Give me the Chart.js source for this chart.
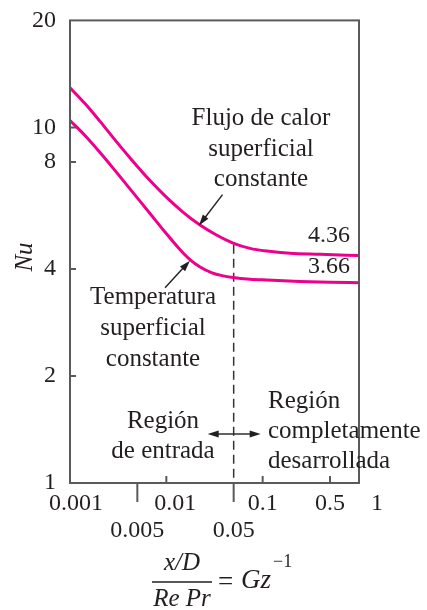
<!DOCTYPE html>
<html>
<head>
<meta charset="utf-8">
<script src="https://cdn.jsdelivr.net/npm/chart.js@4.4.1/dist/chart.umd.min.js"></script>
<style>
  html, body { margin: 0; padding: 0; background: #fff; }
  canvas { display: block; }
</style>
</head>
<body>
<canvas id="chart-nu" width="427" height="610"></canvas>
<script>
// Gz^-1 = (x/D)/(Re Pr) y Nu local, leídos sobre los ejes log-log
const gzFlujo = [0.001, 0.00143, 0.00205, 0.003, 0.0044, 0.00677, 0.00969, 0.01455, 0.0218, 0.0328, 0.0492, 0.0739, 0.111, 0.192, 0.394, 1];
const nuFlujo = [12.93, 11.67, 10.4, 9.15, 8.09, 7.09, 6.42, 5.81, 5.34, 4.99, 4.73, 4.57, 4.49, 4.43, 4.4, 4.36];
const gzTemp  = [0.001, 0.00143, 0.00205, 0.003, 0.0044, 0.00677, 0.00969, 0.0139, 0.0176, 0.0224, 0.0298, 0.0379, 0.0492, 0.0739, 0.111, 0.244, 0.5, 1];
const nuTemp  = [10.46, 9.49, 8.5, 7.51, 6.61, 5.73, 5.08, 4.53, 4.25, 4.05, 3.9, 3.83, 3.785, 3.744, 3.723, 3.69, 3.671, 3.66];

// valores totalmente desarrollados
const nuLimite = [4.36, 3.66];

// frontera entre la región de entrada y la desarrollada
const gzFrontera = 0.05;
const nuFrontera = [4.68, 1];

const xTicks     = [0.001, 0.005, 0.01, 0.05, 0.1, 0.5, 1];
const xTickText  = ['0.001', '0.005', '0.01', '0.05', '0.1', '0.5', '1'];
const xTicksBajo = [0.005, 0.05];       // segunda fila, marca larga hacia abajo
const xTicksDentro = [0.01, 0.1, 0.5];  // marca corta hacia adentro
const yTicks     = [1, 2, 4, 8, 10, 20];
const yTicksDentro = [2, 4, 8, 10];

const ROSA  = '#ec008c';
const TINTA = '#231f20';
const EJE   = '#5a5a5a';
const SERIF = '"Liberation Serif", "Times New Roman", serif';

// corrimiento (en espacios) de algunas etiquetas del eje x
const corrimiento = { 0.001: 2, 0.01: 3, 1: 6 };

function flecha(c, x0, y0, x1, y1) {
  const a = Math.atan2(y1 - y0, x1 - x0);
  const cos = Math.cos(a), sin = Math.sin(a);
  c.beginPath();
  c.moveTo(x0, y0);
  c.lineTo(x1 - 6 * cos, y1 - 6 * sin);
  c.stroke();
  c.beginPath();
  c.moveTo(x1, y1);
  c.lineTo(x1 - 11 * cos + 3.5 * sin, y1 - 11 * sin - 3.5 * cos);
  c.lineTo(x1 - 11 * cos - 3.5 * sin, y1 - 11 * sin + 3.5 * cos);
  c.closePath();
  c.fill();
}

function lineas(c, textos, x, y0, paso) {
  textos.forEach((t, i) => c.fillText(t, x, y0 + i * paso));
}

// marco, marcas de los ejes, notas y título del eje x
const notas = {
  id: 'notas',
  afterDatasetsDraw(chart) {
    const { ctx: c, chartArea: a, scales: { x, y } } = chart;
    c.save();

    c.strokeStyle = EJE;
    c.lineWidth = 2;
    c.strokeRect(a.left, a.top, a.right - a.left, a.bottom - a.top);
    c.beginPath();
    yTicksDentro.forEach(v => { const p = y.getPixelForValue(v); c.moveTo(a.left, p); c.lineTo(a.left + 6, p); });
    xTicksDentro.forEach(v => { const p = x.getPixelForValue(v); c.moveTo(p, a.bottom); c.lineTo(p, a.bottom - 7); });
    xTicksBajo.forEach(v => { const p = x.getPixelForValue(v); c.moveTo(p, a.bottom); c.lineTo(p, a.bottom + 19); });
    c.stroke();

    c.fillStyle = TINTA;
    c.font = '25px ' + SERIF;
    c.textBaseline = 'alphabetic';

    c.textAlign = 'center';
    lineas(c, ['Flujo de calor', 'superficial', 'constante'], 261, 125, 30.5);
    lineas(c, ['Temperatura', 'superficial', 'constante'], 153, 304, 31);
    lineas(c, ['Región', 'de entrada'], 163, 428, 30);
    c.textAlign = 'left';
    lineas(c, ['Región', 'completamente', 'desarrollada'], 268, 408, 30);

    c.textAlign = 'right';
    c.font = '24px ' + SERIF;
    c.fillText(nuLimite[0].toFixed(2), 350, 242);
    c.fillText(nuLimite[1].toFixed(2), 350, 273);

    // flechas hacia cada curva
    c.strokeStyle = TINTA;
    c.fillStyle = TINTA;
    c.lineWidth = 1.4;
    flecha(c, x.getPixelForValue(0.0383), y.getPixelForValue(6.47),
              x.getPixelForValue(0.0218), y.getPixelForValue(5.3));
    flecha(c, x.getPixelForValue(0.0097), y.getPixelForValue(3.54),
              x.getPixelForValue(0.0176), y.getPixelForValue(4.22));
    const xf = x.getPixelForValue(gzFrontera);
    flecha(c, xf, 434, xf - 26, 434);
    flecha(c, xf, 434, xf + 27, 434);

    // Nu
    c.save();
    c.translate(24, 257);
    c.rotate(-Math.PI / 2);
    c.textAlign = 'center';
    c.font = 'italic 25px ' + SERIF;
    c.fillText('Nu', 0, 8);
    c.restore();

    // (x/D)/(Re Pr) = Gz^-1
    c.textAlign = 'center';
    c.font = 'italic 25px ' + SERIF;
    c.fillText('x/D', 182, 570);
    c.fillText('Re Pr', 182, 606);
    c.lineWidth = 1.3;
    c.beginPath();
    c.moveTo(152, 582);
    c.lineTo(212, 582);
    c.stroke();
    c.textAlign = 'left';
    c.font = '27px ' + SERIF;
    c.fillText('=', 218, 590);
    c.font = 'italic 27px ' + SERIF;
    c.fillText('Gz', 241, 588);
    c.font = '18px ' + SERIF;
    c.fillText('\u22121', 273, 567);

    c.restore();
  }
};

const serie = (xs, ys) => xs.map((g, i) => ({ x: g, y: ys[i] }));

new Chart(document.getElementById('chart-nu'), {
  type: 'line',
  data: {
    datasets: [
      {
        label: 'Flujo de calor superficial constante',
        data: serie(gzFlujo, nuFlujo),
        borderColor: ROSA, borderWidth: 3, pointRadius: 0,
        cubicInterpolationMode: 'monotone'
      },
      {
        label: 'Temperatura superficial constante',
        data: serie(gzTemp, nuTemp),
        borderColor: ROSA, borderWidth: 3, pointRadius: 0,
        cubicInterpolationMode: 'monotone'
      },
      {
        label: 'frontera',
        data: nuFrontera.map(v => ({ x: gzFrontera, y: v })),
        borderColor: '#333', borderWidth: 1.5, borderDash: [9, 5], pointRadius: 0
      }
    ]
  },
  options: {
    responsive: false,
    animation: false,
    devicePixelRatio: 1,
    layout: { padding: { top: 16, right: 68, left: 0, bottom: 0 } },
    plugins: { legend: { display: false }, tooltip: { enabled: false } },
    scales: {
      x: {
        type: 'logarithmic', min: 0.001, max: 1,
        grid: { display: false }, border: { display: false },
        afterBuildTicks: s => { s.ticks = xTicks.map(v => ({ value: v })); },
        afterFit: s => { s.height = 127; },
        ticks: {
          autoSkip: false, maxRotation: 0, padding: 0, color: TINTA,
          font: { family: SERIF, size: 24, lineHeight: 1.1 },
          callback: (v, i) => {
            const t = ' '.repeat(corrimiento[xTicks[i]] || 0) + xTickText[i];
            return xTicksBajo.includes(xTicks[i]) ? ['', t] : t;
          }
        }
      },
      y: {
        type: 'logarithmic', min: 1, max: 20,
        grid: { display: false }, border: { display: false },
        afterBuildTicks: s => { s.ticks = yTicks.map(v => ({ value: v })); },
        afterFit: s => { s.width = 70; },
        ticks: {
          padding: 6, color: TINTA,
          font: { family: SERIF, size: 24 },
          callback: (v, i) => String(yTicks[i])
        }
      }
    }
  },
  plugins: [notas]
});
</script>
</body>
</html>
